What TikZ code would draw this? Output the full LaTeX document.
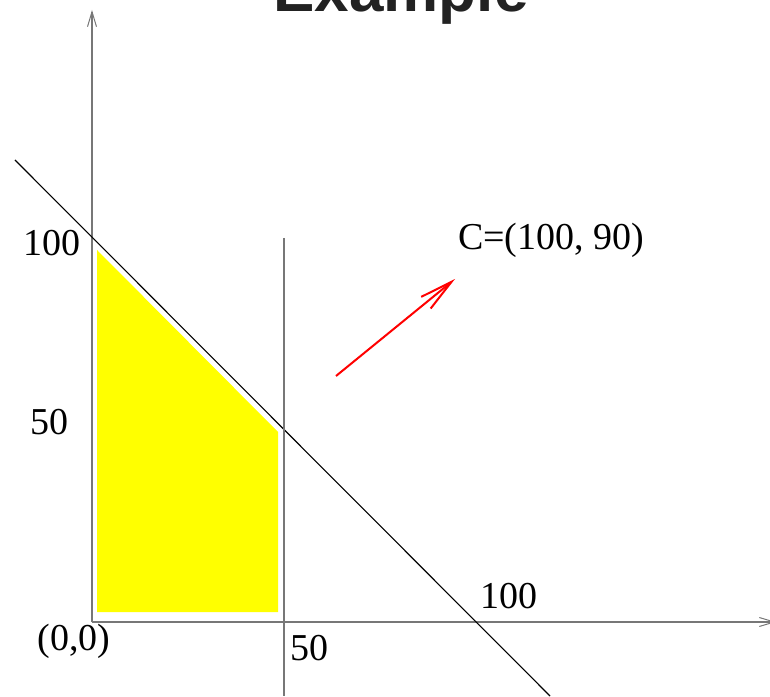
\documentclass[tikz,border=0pt]{standalone}
\usepackage{fontspec}
\setmainfont{Liberation Serif}
\newfontfamily\titlefont{Liberation Sans}
\usetikzlibrary{arrows.meta}
\definecolor{axisgray}{HTML}{777777}
\definecolor{titlegray}{HTML}{222222}
\definecolor{feasyellow}{RGB}{255,255,0}
\definecolor{objred}{RGB}{255,0,0}
\tikzset{
  axis/.style={draw=axisgray, line width=1.1pt, -{Straight Barb[length=15pt,width=9pt,line width=1pt]}},
  guide/.style={draw=axisgray, line width=1.1pt},
  constraint/.style={draw=black, line width=1.1pt},
  lbl/.style={font=\fontsize{38}{40}\selectfont, inner sep=0pt},
  objarrow/.style={draw=objred, line width=2pt, -{Straight Barb[length=33pt,width=15pt,line width=2pt]}}
}
\begin{document}
\begin{tikzpicture}[x=1pt,y=1pt]
\useasboundingbox[clip] (0,0) rectangle (770,696);
% coordinates (pixel x, 696 - pixel y)
\coordinate (O) at (92,74);
\coordinate (ytop) at (92,686);
\coordinate (xend) at (776,74);
\coordinate (d1) at (15,536);
\coordinate (d2) at (550,0);
\coordinate (v1) at (284,458);
\coordinate (v2) at (284,0);
\coordinate (a1) at (336,320);
\coordinate (a2) at (455,417);
% feasible region
\fill[feasyellow] (97,446) -- (97,84) -- (278,84) -- (278,264) -- cycle;
% axes
\draw[axis] (O) -- (ytop);
\draw[axis] (O) -- (xend);
% constraints
\draw[constraint] (d1) -- (d2);
\draw[guide] (v1) -- (v2);
% objective direction
\draw[objarrow] (a1) -- (a2);
% labels
\node[lbl, anchor=east] (l100y) at (81,453) {100};
\node[lbl] (l50y) at (49,274) {50};
\node[lbl] (l00) at (74,55) {(0,0)};
\node[lbl] (l50x) at (309,48) {50};
\node[lbl] (l100x) at (509,100) {100};
\node[lbl, anchor=west] (lC) at (458,456) {C=(100, 90)};
\node[font=\titlefont\bfseries\fontsize{62}{64}\selectfont, text=titlegray, anchor=base, inner sep=0pt] (title) at (401,684) {Example};
\end{tikzpicture}
\end{document}
